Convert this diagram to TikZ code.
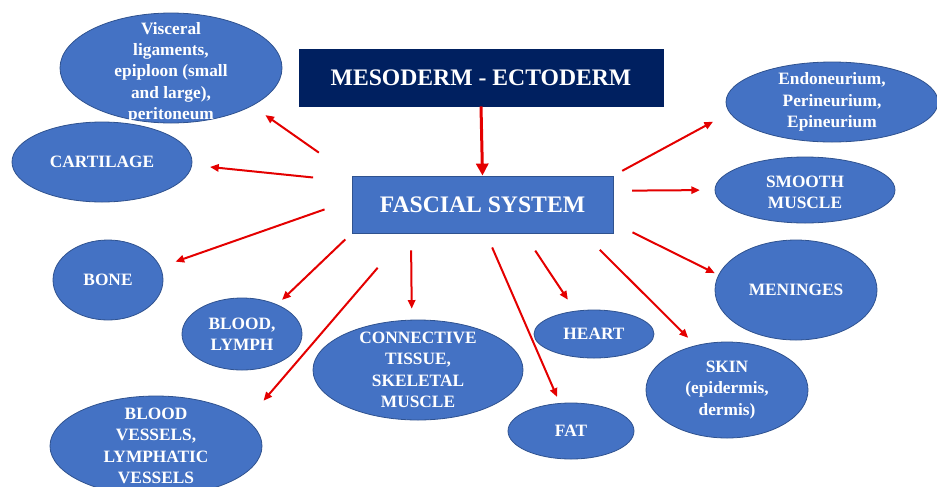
\documentclass[tikz,border=0pt]{standalone}
\usepackage{fontspec}
\setmainfont{Liberation Serif}
\usetikzlibrary{shapes.geometric,arrows.meta}

\definecolor{ovalblue}{RGB}{68,114,196}
\definecolor{ovaledge}{RGB}{47,82,143}
\definecolor{navyblue}{RGB}{0,32,96}
\definecolor{arrowred}{RGB}{228,0,0}

\begin{document}
\begin{tikzpicture}[x=0.75pt,y=0.75pt,yscale=-1,xscale=1,
    oval/.style={ellipse,draw=ovaledge,fill=ovalblue,line width=0.6pt,inner sep=0pt},
    ovaltext/.style={text=white,font=\fontsize{13}{16}\selectfont\bfseries,align=center,inner sep=0pt},
    mainbox/.style={rectangle,draw=#1,fill=#1,line width=0.6pt,text=white,
        font=\fontsize{17.75}{21}\selectfont\bfseries,minimum height=42.75pt,inner sep=0pt},
    arr/.style={draw=arrowred,line width=1.5pt,-{Triangle[length=6.5pt,width=5.5pt]}},
    bigarr/.style={draw=arrowred,line width=2.25pt,-{Triangle[length=9pt,width=9pt]}}]

    \useasboundingbox (0,0) rectangle (937,486);

    \node[mainbox=navyblue,minimum width=273pt] (meso) at (481,77.5) {MESODERM - ECTODERM};
    \node[mainbox=ovalblue,draw=ovaledge,minimum width=195.75pt] (fs) at (482.5,204.5) {FASCIAL SYSTEM};

    \node[oval,minimum width=166.5pt,minimum height=82.5pt,
        label={[ovaltext,yshift=-3.5pt]center:{Visceral\\ligaments,\\epiploon (small\\and large),\\peritoneum}}] (visc) at (171,68) {};
    \node[oval,minimum width=135pt,minimum height=60pt,
        label={[ovaltext]center:CARTILAGE}] (cart) at (102,162) {};
    \node[oval,minimum width=82.5pt,minimum height=60pt,
        label={[ovaltext]center:BONE}] (bone) at (108,280) {};
    \node[oval,minimum width=90pt,minimum height=54pt,
        label={[ovaltext]center:{BLOOD,\\LYMPH}}] (blym) at (242,334) {};
    \node[oval,minimum width=159pt,minimum height=75pt,
        label={[ovaltext]center:{BLOOD\\VESSELS,\\LYMPHATIC\\VESSELS}}] (bves) at (156,446) {};
    \node[oval,minimum width=157.5pt,minimum height=75pt,
        label={[ovaltext]center:{CONNECTIVE\\TISSUE,\\SKELETAL\\MUSCLE}}] (conn) at (418,370) {};
    \node[oval,minimum width=90pt,minimum height=36pt,
        label={[ovaltext]center:HEART}] (heart) at (594,334) {};
    \node[oval,minimum width=94.5pt,minimum height=42pt,
        label={[ovaltext]center:FAT}] (fat) at (571,431) {};
    \node[oval,minimum width=121.5pt,minimum height=72pt,
        label={[ovaltext]center:{SKIN\\(epidermis,\\dermis)}}] (skin) at (727,390) {};
    \node[oval,minimum width=121.5pt,minimum height=75pt,
        label={[ovaltext]center:MENINGES}] (men) at (796,290) {};
    \node[oval,minimum width=135pt,minimum height=49.5pt,
        label={[ovaltext,yshift=-2pt]center:{SMOOTH\\MUSCLE}}] (smooth) at (805,190) {};
    \node[oval,minimum width=159pt,minimum height=60pt,
        label={[ovaltext]center:{Endoneurium,\\Perineurium,\\Epineurium}}] (endo) at (832,102) {};

    \draw[bigarr] (meso.south) -- (fs.north);

    \draw[arr,shorten <=30pt,shorten >=12pt] (fs.north west) -- (visc.335);
    \draw[arr,shorten <=29pt,shorten >=13.5pt] (fs.170) -- (cart.-2);
    \draw[arr,shorten <=21.5pt,shorten >=12pt] (fs.178) -- (bone.14);
    \draw[arr,shorten <=6.5pt,shorten >=5pt] (fs.south west) -- (blym.40);
    \draw[arr,shorten <=34pt,shorten >=19pt] (fs.201) -- (bves.16);
    \draw[arr,shorten <=12.75pt,shorten >=8.25pt] (fs.202) -- (conn.97);
    \draw[arr,shorten <=11.5pt,shorten >=5pt] (fs.-83) -- (fat.112);
    \draw[arr,shorten <=15.5pt,shorten >=10pt] (fs.-35) -- (heart.129);
    \draw[arr,shorten <=17.5pt,shorten >=8pt] (fs.-16) -- (skin.125);
    \draw[arr,shorten <=16pt,shorten >=3pt] (fs.-8) -- (men.169);
    \draw[arr,shorten <=14pt,shorten >=11pt] (fs.6) -- (smooth.180);
    \draw[arr,shorten <=7.5pt,shorten >=14pt] (fs.north east) -- (endo.186);

\end{tikzpicture}
\end{document}
